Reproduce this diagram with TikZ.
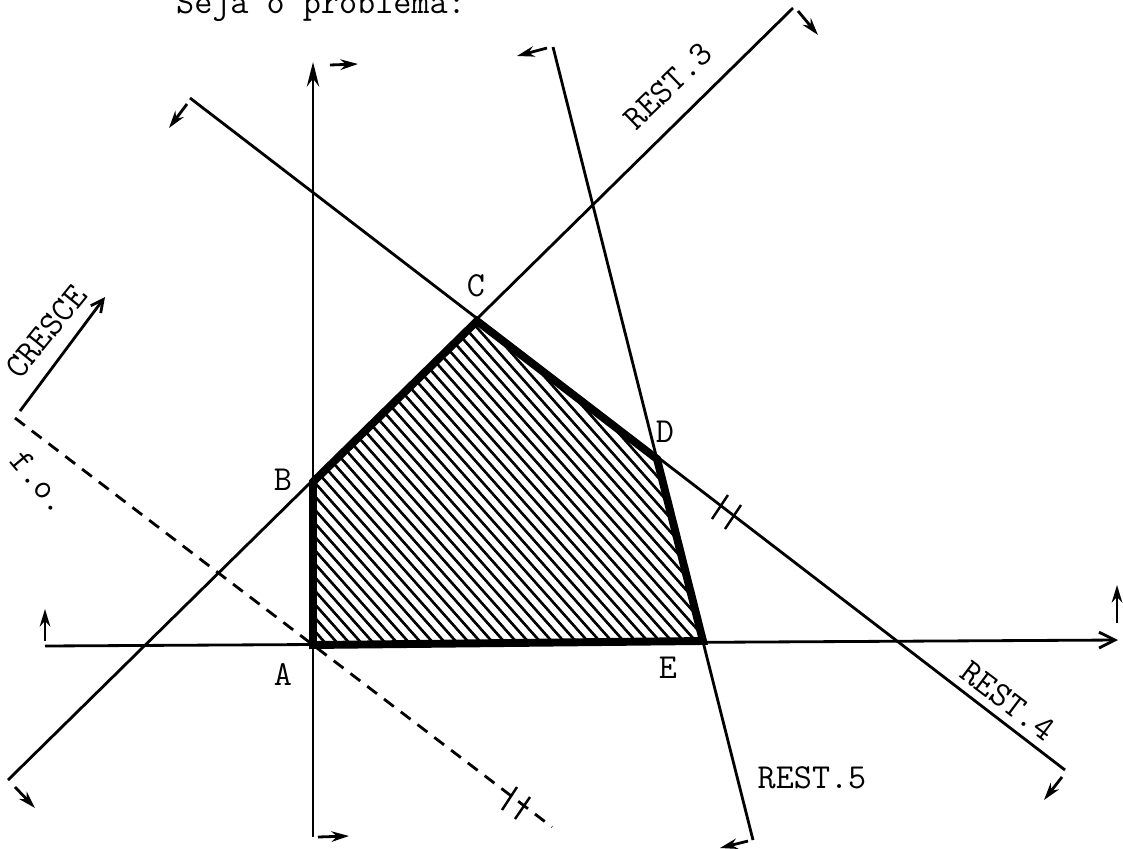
\documentclass[tikz,border=0pt]{standalone}
\usetikzlibrary{arrows.meta}
\begin{document}
\begin{tikzpicture}[x=0.02cm,y=-0.02cm,
  font=\ttfamily\fontsize{20}{24}\selectfont,
  reta/.style={line width=1.6pt},
  seta/.style={line width=1.6pt,-{Stealth[length=10pt,width=6pt]}},
  borda/.style={line width=4.5pt,line join=miter},
  hach/.style={line width=1.5pt},
  risco/.style={line width=1.4pt}]
\useasboundingbox (0,0) rectangle (1123,849);
% vertices of the region
\coordinate (A) at (313,645);
\coordinate (B) at (313,482);
\coordinate (C) at (477,321);
\coordinate (D) at (657,459);
\coordinate (E) at (703,641);
% axes
\draw[reta,-{Stealth[length=14pt,width=7pt]}] (313,837) -- (313,62);
\draw[reta,-{Straight Barb[length=9pt,width=9pt]}] (45,646) -- (1118,640);
% restrictions
\draw[reta] (8,780) -- (793,8);
\draw[reta] (190,98) -- (1065,770);
\draw[reta] (553,47) -- (753,840);
% objective function
\draw[reta,dash pattern=on 7pt off 5pt] (15,418) -- (552,827);
% hatching
\begin{scope}
\clip (A) -- (B) -- (C) -- (D) -- (E) -- cycle;
\foreach \x in {-120,-108,...,720}
  \draw[hach] (\x,250) -- ++(400,450);
\end{scope}
\draw[borda] (A) -- (B) -- (C) -- (D) -- (E) -- cycle;
% small arrows
\draw[seta] (330,65) -- (358,64);
\draw[seta] (318,837) -- (349,836);
\draw[seta] (45,641) -- (45,609);
\draw[seta] (1117,623) -- (1117,585);
\draw[seta] (798,11) -- (818,35);
\draw[seta] (15,787) -- (35,808);
\draw[seta] (187,104) -- (169,128);
\draw[seta] (1062,777) -- (1044,800);
\draw[seta] (547,48) -- (517,56);
\draw[seta] (748,841) -- (720,848);
\draw[seta,-{Straight Barb[length=7pt,width=7pt]}] (20,411) -- (105,297);
% ticks
\draw[risco] (502,810) -- (517,787);
\draw[risco] (515,819) -- (530,797);
\draw[risco] (712,519) -- (728,495);
\draw[risco] (725,529) -- (741,505);
% labels
\node (tA) at (283,675) {A};
\node (tB) at (283,480) {B};
\node (tC) at (476,286) {C};
\node (tD) at (665,432) {D};
\node (tE) at (668,668) {E};
\node[rotate=44] (r3) at (668,86) {REST.3};
\node[rotate=-37] (r4) at (1008,701) {REST.4};
\node (r5) at (812,778) {REST.5};
\node[rotate=51] (cr) at (46,332) {CRESCE};
\node[rotate=-50] (fo) at (40,482) {f.o.};
\node[anchor=base west] (tt) at (170,13) {Seja o problema:};
\end{tikzpicture}
\end{document}
